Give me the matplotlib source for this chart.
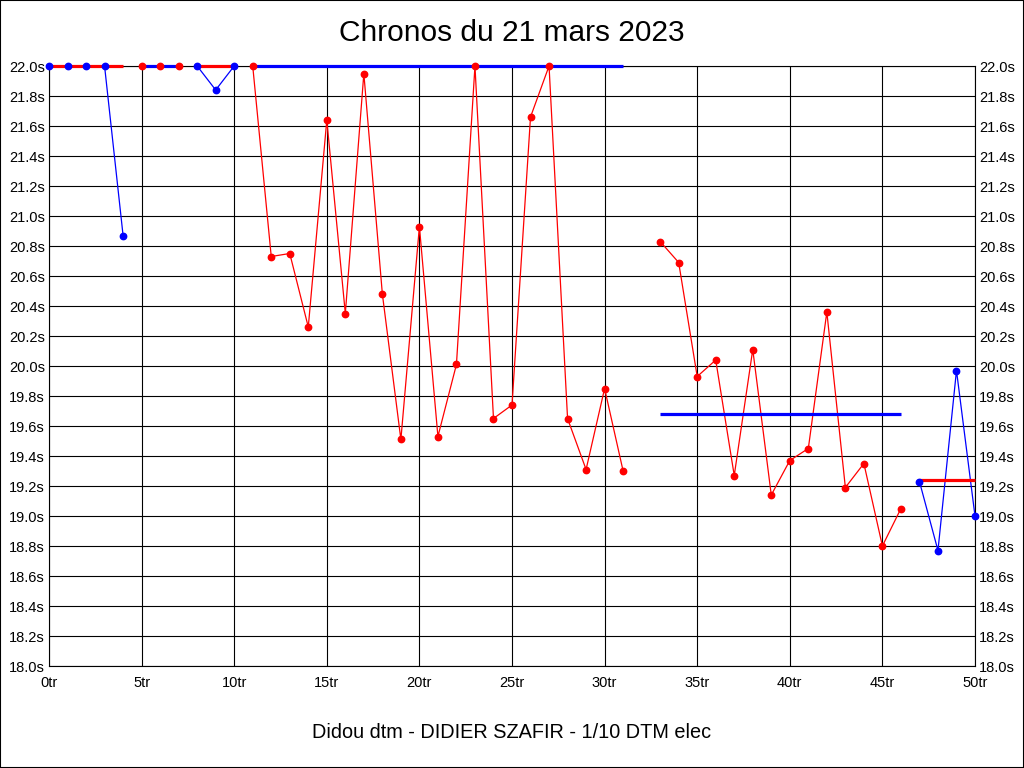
import numpy as np
import matplotlib.pyplot as plt
from matplotlib.patches import Rectangle

plt.rcParams['font.family'] = ['Liberation Sans', 'DejaVu Sans']

#---    Data (lap number, lap time in s) per stint
laps_1 = [0, 1, 2, 3, 4]
times_1 = [22.0, 22.0, 22.0, 22.0, 20.87]
laps_2 = [5, 6, 7]
times_2 = [22.0, 22.0, 22.0]
laps_3 = [8, 9, 10]
times_3 = [22.0, 21.84, 22.0]
laps_4 = list(range(11, 32))
times_4 = [22.0, 20.73, 20.75, 20.26, 21.64, 20.35, 21.95, 20.48, 19.51, 20.93,
           19.53, 20.01, 22.0, 19.65, 19.74, 21.66, 22.0, 19.65, 19.31, 19.85, 19.30]
laps_5 = list(range(33, 47))
times_5 = [20.83, 20.69, 19.93, 20.04, 19.27, 20.11, 19.14, 19.37, 19.45, 20.36,
           19.19, 19.35, 18.80, 19.05]
laps_6 = [47, 48, 49, 50]
times_6 = [19.23, 18.77, 19.97, 19.00]

# stint reference lines (level)
ref_levels = [22.0, 22.0, 22.0, 22.0, 19.68, 19.24]

stints = [(laps_1, times_1), (laps_2, times_2), (laps_3, times_3),
          (laps_4, times_4), (laps_5, times_5), (laps_6, times_6)]
point_colors = ['blue', 'red', 'blue', 'red', 'red', 'blue']
ref_colors = ['red', 'blue', 'red', 'blue', 'blue', 'red']

#---    Figure
fig = plt.figure(figsize=(10.24, 7.68), dpi=100)
ax = fig.add_axes([49 / 1024, 102 / 768, 926 / 1024, 600 / 768])

for (l, t), pc, rc, lvl in zip(stints, point_colors, ref_colors, ref_levels):
    ax.plot(l, t, color=pc, linewidth=0.9, zorder=3, clip_on=False)
    ax.plot([l[0], l[-1]], [lvl, lvl], color=rc, linewidth=2.3, zorder=4,
            solid_capstyle='butt', clip_on=False)
    ax.plot(l, t, linestyle='none', marker='o', markersize=4.6, color=pc,
            zorder=5, clip_on=False)

ax.set_xlim(0, 50)
ax.set_ylim(18.0, 22.0)
yt = np.arange(18.0, 22.01, 0.2)
ax.set_yticks(yt)
ax.set_yticklabels(['%.1fs' % v for v in yt])
xt = range(0, 51, 5)
ax.set_xticks(xt)
ax.set_xticklabels(['%dtr' % v for v in xt])
ax.tick_params(axis='y', which='both', length=0, pad=3, labelsize=10.5,
               left=True, right=True, labelleft=True, labelright=True)
ax.tick_params(axis='x', length=0, pad=7, labelsize=10.5)
ax.grid(True, color='black', linewidth=0.8)
ax.set_axisbelow(True)
for s in ax.spines.values():
    s.set_color('black')
    s.set_linewidth(0.8)

fig.text(0.5, 1 - 33 / 768, 'Chronos du 21 mars 2023', ha='center', va='center',
         fontsize=21.5)
fig.text(0.5, 1 - 733 / 768, 'Didou dtm - DIDIER SZAFIR - 1/10 DTM elec',
         ha='center', va='center', fontsize=14.3)

fig.patches.append(Rectangle((0, 0), 1, 1, transform=fig.transFigure, fill=False,
                             edgecolor='black', linewidth=1.5))

plt.savefig('out.png', dpi=100)
